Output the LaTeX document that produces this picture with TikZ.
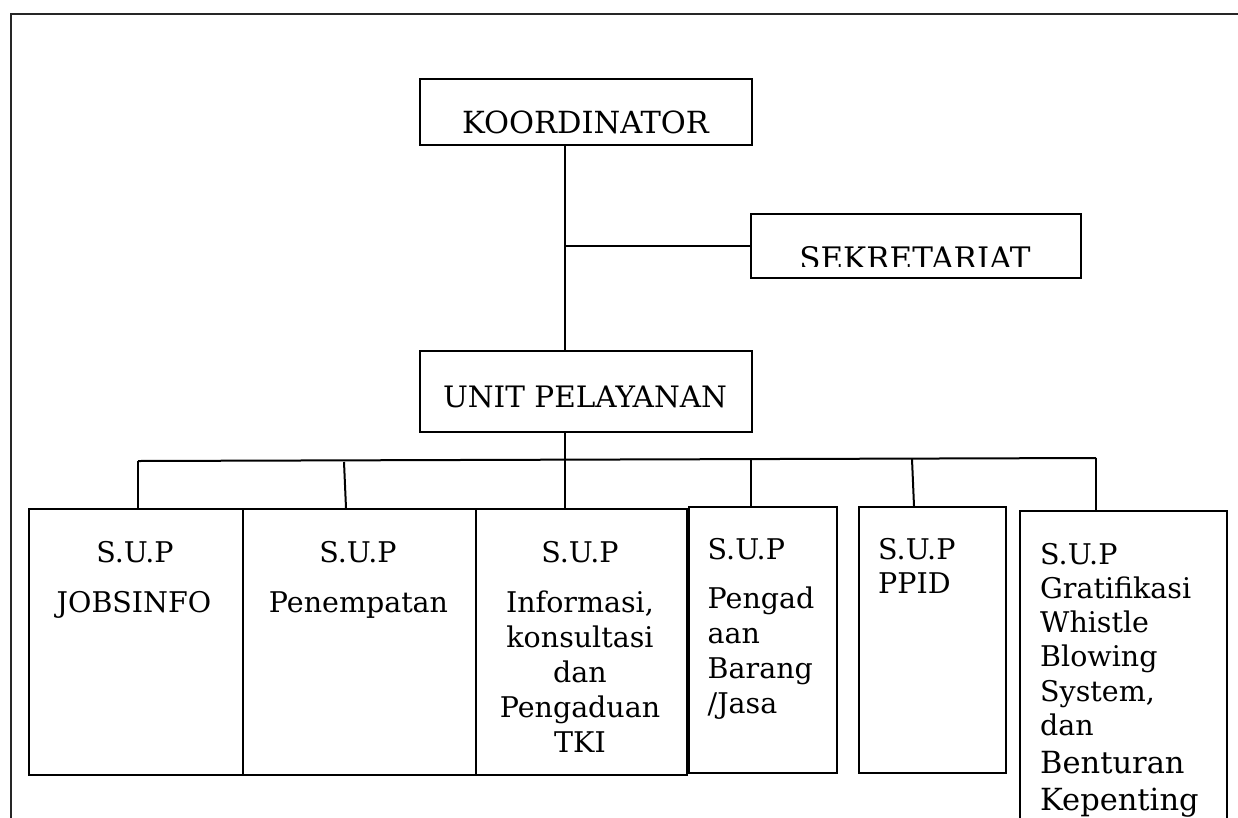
\documentclass[tikz,border=0pt]{standalone}
\usepackage{fontspec}
\setmainfont{DejaVu Serif}
\begin{document}
\begin{tikzpicture}[x=1pt,y=-1pt,
  box/.style={draw, line width=2pt, rectangle, inner sep=0pt, anchor=north west},
  conn/.style={line width=2pt},
  lbl/.style={inner sep=0pt, font=\fontsize{28.5}{35}\selectfont},
  big/.style={inner sep=0pt, font=\fontsize{30.5}{37}\selectfont}]
\useasboundingbox (0,0) rectangle (1238,817);
% outer frame (open to the right and bottom)
\draw[line width=2pt, black!85] (1245,14) -- (11,14) -- (11,825);

% boxes
\node[box, minimum width=332pt, minimum height=66pt] (k) at (419,78) {};
\node[box, minimum width=330pt, minimum height=64pt] (s) at (750,213) {};
\node[box, minimum width=332pt, minimum height=81pt] (u) at (419,350) {};
\node[box, minimum width=214pt, minimum height=266pt] (b1) at (28,508) {};
\node[box, minimum width=232.5pt, minimum height=266pt] (b2) at (242,508) {};
\node[box, minimum width=211.5pt, minimum height=266pt] (b3) at (474.5,508) {};
\node[box, minimum width=148pt, minimum height=266pt] (b4) at (688,506) {};
\node[box, minimum width=147pt, minimum height=266pt] (b5) at (858,506) {};
\node[box, minimum width=207pt, minimum height=330pt] (b6) at (1019,510) {};

% texts
\node[lbl, anchor=base, font=\fontsize{30.5}{35}\selectfont] (tk) at (585.5,133) {KOORDINATOR};
\begin{scope}
  \clip (750,200) rectangle (1080,266);
  \node[lbl, anchor=base, font=\fontsize{31}{35}\selectfont] (ts) at (915,269.5) {SEKRETARIAT};
\end{scope}
\node[lbl, anchor=base, font=\fontsize{29.5}{35}\selectfont] (tu) at (585,407) {UNIT PELAYANAN};

\node[lbl, anchor=base] (t1a) at (135,562) {S.U.P};
\node[lbl, anchor=base] (t1b) at (134,612) {JOBSINFO};
\node[lbl, anchor=base] (t2a) at (358,562) {S.U.P};
\node[lbl, anchor=base] (t2b) at (358.5,612) {Penempatan};
\node[lbl, anchor=base] (t3a) at (580,562) {S.U.P};
\node[lbl, anchor=base, align=center] (t3b) at (580,752) {Informasi,\\konsultasi\\dan\\Pengaduan\\TKI};
\node[lbl, anchor=base west] (t4a) at (707.5,559) {S.U.P};
\node[lbl, anchor=base west, align=left, font=\fontsize{28.5}{34.7}\selectfont] (t4b) at (707.5,713) {Pengad\\aan\\Barang\\/Jasa};
\node[lbl, anchor=base west, align=left, font=\fontsize{28.5}{34}\selectfont] (t5) at (878,593) {S.U.P\\PPID};
\node[lbl, anchor=base west, align=left, font=\fontsize{28.5}{34.3}\selectfont] (t6a) at (1040,735.5) {S.U.P\\Gratifikasi\\Whistle\\Blowing\\System,\\dan};
\node[big, anchor=base west, align=left] (t6b) at (1040,810) {Benturan\\Kepenting};

% connectors
\coordinate (j) at (565,246);
\draw[conn] (k.south -| j) -- (u.north -| j);
\draw[conn] (j) -- (s.west |- j);

\coordinate (d1) at (138,461);
\coordinate (d2) at (344,462);
\coordinate (d3) at (565,460);
\coordinate (d4) at (751,459);
\coordinate (d5) at (912,459);
\coordinate (d6) at (1096,458);
\draw[conn] (d1) -- (d6);
\draw[conn] (u.south -| d3) -- (b3.north -| d3);
\draw[conn] (d1) -- (b1.north -| d1);
\draw[conn] (d2) -- ([xshift=2pt]b2.north -| d2);
\draw[conn] (d4) -- (b4.north -| d4);
\draw[conn] (d5) -- ([xshift=2pt]b5.north -| d5);
\draw[conn] (d6) -- (b6.north -| d6);
\end{tikzpicture}
\end{document}
